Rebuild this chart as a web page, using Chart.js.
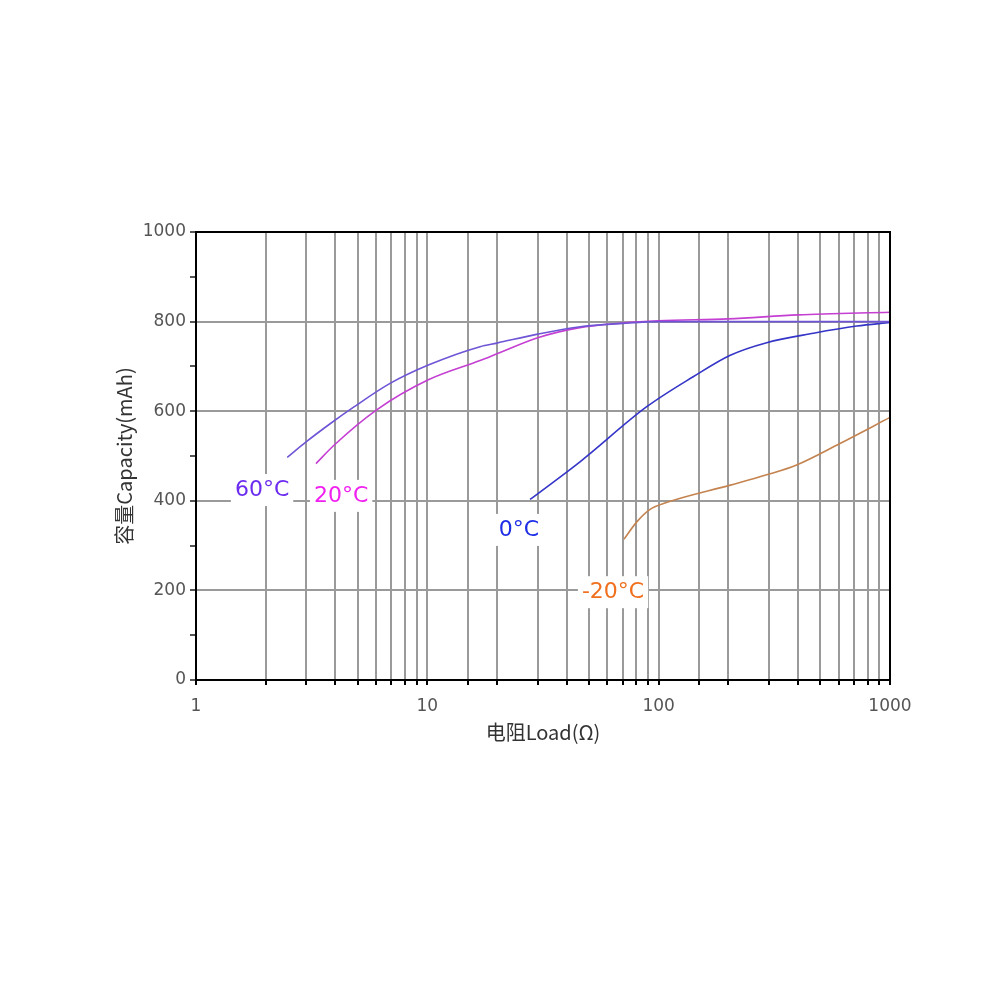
<!DOCTYPE html>
<html>
<head>
<meta charset="utf-8">
<script src="https://cdn.jsdelivr.net/npm/chart.js@4.4.1/dist/chart.umd.min.js"></script>
<style>
html,body{margin:0;padding:0;background:#fff;}
#wrap{width:1000px;height:1000px;}
</style>
</head>
<body>
<div id="wrap"><canvas id="c" width="1000" height="1000"></canvas></div>
<script>
// ---- data ----
const seriesNames = ['60°C', '20°C', '0°C', '-20°C'];

const load60 = [2.48, 3.0, 3.8, 4.8, 6.9, 10.1, 16.9, 20, 30, 45, 70, 100, 200, 500, 1000];
const cap60  = [497, 532, 572, 609, 662, 703, 744, 752, 772, 788, 796, 800, 800, 800, 800];

const load20 = [3.3, 3.95, 6.04, 10.1, 16.9, 20, 30, 45, 70, 100, 200, 400, 1000];
const cap20  = [483, 524, 603, 670, 713, 728, 764, 786, 797, 802, 806, 815, 821];

const load0 = [27.8, 45.7, 88.8, 141, 204, 293, 467, 718, 1000];
const cap0  = [403, 487, 610, 677, 725, 753, 774, 790, 798];

const loadM20 = [70.8, 80.4, 91.8, 108, 204, 293, 395, 608, 1000];
const capM20  = [314, 353, 381, 396, 435, 458, 480, 528, 586];

// label anchor positions (data units)
const labelLoad = [1.93, 4.24, 24.9, 63.5];
const labelCap  = [424, 411, 335, 196];

const xTickLabels = [1, 10, 100, 1000];
const yMin = 0, yMax = 1000, yStep = 100, yLabelStep = 200;

const lineColors  = ['#6f55d6', '#c43fd2', '#3434c8', '#c4834f'];
const labelColors = ['#6b2cf0', '#f020f0', '#1e2ee6', '#f0701e'];

function toPts(xs, ys){ return xs.map((x,i)=>({x:x, y:ys[i]})); }
const allSeries = [toPts(load60,cap60), toPts(load20,cap20), toPts(load0,cap0), toPts(loadM20,capM20)];

const labelPlugin = {
  id:'labels',
  afterDatasetsDraw(chart){
    const ctx = chart.ctx, xs = chart.scales.x, ys = chart.scales.y;
    ctx.save();
    ctx.font = '22px "DejaVu Sans", Verdana, sans-serif';
    ctx.textAlign = 'center';
    ctx.textBaseline = 'middle';
    seriesNames.forEach((t,i)=>{
      const px = xs.getPixelForValue(labelLoad[i]);
      const py = ys.getPixelForValue(labelCap[i]);
      const w = ctx.measureText(t).width + 8;
      ctx.fillStyle = '#fff';
      ctx.fillRect(px - w/2, py - 16, w, 32);
      ctx.fillStyle = labelColors[i];
      ctx.fillText(t, px, py);
    });
    ctx.restore();
  }
};

const framePlugin = {
  id:'frame',
  afterDatasetsDraw(chart){
    const a = chart.chartArea, ctx = chart.ctx;
    ctx.save();
    ctx.strokeStyle = '#000';
    ctx.lineWidth = 2;
    ctx.strokeRect(a.left, a.top, a.right - a.left, a.bottom - a.top);
    ctx.restore();
  }
};

new Chart(document.getElementById('c'), {
  type:'line',
  data:{
    datasets: allSeries.map((d,i)=>({
      label: seriesNames[i],
      data: d,
      borderColor: lineColors[i],
      borderWidth: 1.6,
      pointRadius: 0,
      fill: false,
      cubicInterpolationMode: 'monotone'
    }))
  },
  options:{
    responsive:false,
    animation:false,
    devicePixelRatio:1,
    layout:{padding:{left:112, right:110, top:232, bottom:256}},
    plugins:{legend:{display:false}, tooltip:{enabled:false}},
    scales:{
      x:{
        type:'logarithmic',
        min:1, max:1000,
        afterFit(s){ s.height = 64; },
        border:{color:'#000', width:2},
        grid:{
          color:(c)=> (c.tick && (c.tick.value===1 || c.tick.value===1000)) ? 'rgba(0,0,0,0)' : '#9a9a9a',
          lineWidth:2,
          tickColor:'#000',
          tickLength:5,
          drawOnChartArea:true
        },
        ticks:{
          autoSkip:false, maxRotation:0, minRotation:0,
          color:'#555',
          font:{family:'"DejaVu Sans", sans-serif', size:17},
          padding:11,
          callback:(v)=> xTickLabels.includes(v) ? String(v) : ''
        },
        title:{
          display:true,
          text:'电阻Load(Ω)',
          color:'#333',
          font:{family:'"Noto Sans CJK SC", "DejaVu Sans", sans-serif', size:20},
          padding:{top:0, bottom:0}
        }
      },
      y:{
        min:yMin, max:yMax,
        afterFit(s){ s.width = 84; },
        border:{color:'#000', width:2},
        grid:{
          color:(c)=> {
            const v = c.tick ? c.tick.value : 0;
            return (v % yLabelStep === 0 && v !== yMin && v !== yMax) ? '#9a9a9a' : 'rgba(0,0,0,0)';
          },
          lineWidth:2,
          tickColor:'#555',
          tickLength:6
        },
        ticks:{
          stepSize:yStep,
          color:'#555',
          font:{family:'"DejaVu Sans", sans-serif', size:17},
          padding:4,
          callback:(v)=> (v % yLabelStep === 0) ? String(v) : ''
        },
        title:{
          display:true,
          text:'容量Capacity(mAh)',
          color:'#333',
          font:{family:'"Noto Sans CJK SC", "DejaVu Sans", sans-serif', size:20},
          padding:{top:0, bottom:0}
        }
      }
    }
  },
  plugins:[framePlugin, labelPlugin]
});
</script>
</body>
</html>
